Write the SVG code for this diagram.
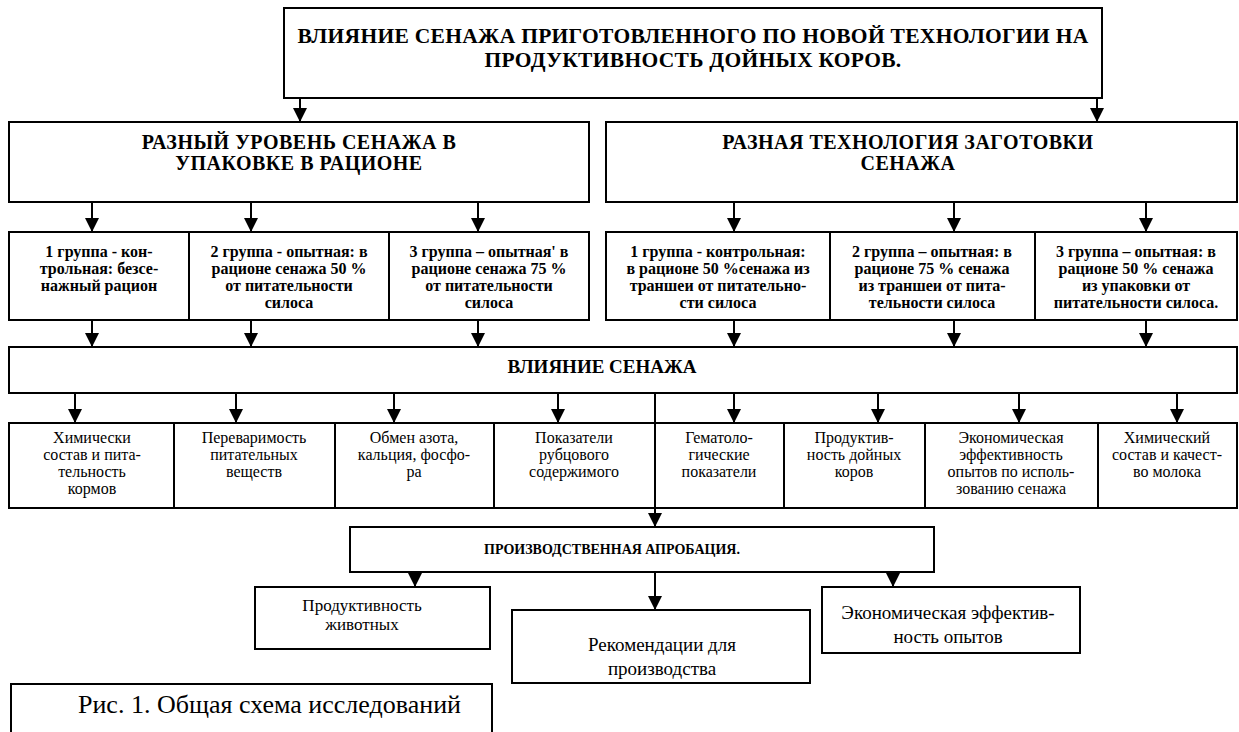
<svg xmlns="http://www.w3.org/2000/svg" width="1239" height="732" viewBox="0 0 1239 732">
<style>
.box{fill:#fff;stroke:#000;stroke-width:2}
.t{font-family:"Liberation Serif","Times New Roman",serif;fill:#000;text-anchor:middle}
.b{font-weight:bold}
.hd{font-size:20px;font-weight:bold;letter-spacing:0.5px}
.ttl{font-size:21.5px;font-weight:bold;letter-spacing:0.3px}
.g{font-size:16px;font-weight:bold}
.e{font-size:16px}
.ln{stroke:#000;stroke-width:2;fill:none}
</style>
<defs>
<marker id="ah" markerUnits="userSpaceOnUse" markerWidth="14" markerHeight="14" refX="14" refY="7" orient="auto">
<path d="M0,0 L14,7 L0,14 z" fill="#000"/>
</marker>
</defs>
<rect width="1239" height="732" fill="#fff"/>

<g id="title">
<rect class="box" x="284" y="8" width="818" height="90"/>
<text class="t ttl" x="693" y="43">ВЛИЯНИЕ СЕНАЖА ПРИГОТОВЛЕННОГО ПО НОВОЙ ТЕХНОЛОГИИ НА</text>
<text class="t ttl" x="693" y="67">ПРОДУКТИВНОСТЬ ДОЙНЫХ КОРОВ.</text>
</g>

<g id="header-left">
<rect class="box" x="9" y="122" width="580" height="80"/>
<text class="t hd" x="299" y="149">РАЗНЫЙ УРОВЕНЬ СЕНАЖА В</text>
<text class="t hd" x="299" y="170">УПАКОВКЕ В РАЦИОНЕ</text>
</g>

<g id="header-right">
<rect class="box" x="606" y="122" width="631" height="80"/>
<text class="t hd" x="908" y="149">РАЗНАЯ ТЕХНОЛОГИЯ ЗАГОТОВКИ</text>
<text class="t hd" x="908" y="170">СЕНАЖА</text>
</g>

<g id="group-l1">
<rect class="box" x="9" y="232" width="180" height="88"/>
<text class="t g" x="99" y="257">1 группа - кон-</text>
<text class="t g" x="99" y="274">трольная: безсе-</text>
<text class="t g" x="99" y="291">нажный рацион</text>
</g>
<g id="group-l2">
<rect class="box" x="189" y="232" width="200" height="88"/>
<text class="t g" x="289" y="257">2 группа - опытная: в</text>
<text class="t g" x="289" y="274">рационе сенажа 50 %</text>
<text class="t g" x="289" y="291">от питательности</text>
<text class="t g" x="289" y="308">силоса</text>
</g>
<g id="group-l3">
<rect class="box" x="389" y="232" width="200" height="88"/>
<text class="t g" x="489" y="257">3 группа – опытная' в</text>
<text class="t g" x="489" y="274">рационе сенажа 75 %</text>
<text class="t g" x="489" y="291">от питательности</text>
<text class="t g" x="489" y="308">силоса</text>
</g>
<g id="group-r1">
<rect class="box" x="606" y="232" width="224" height="88"/>
<text class="t g" x="718" y="257">1 группа - контрольная:</text>
<text class="t g" x="718" y="274">в рационе 50 %сенажа из</text>
<text class="t g" x="718" y="291">траншеи от питательно-</text>
<text class="t g" x="718" y="308">сти силоса</text>
</g>
<g id="group-r2">
<rect class="box" x="830" y="232" width="205" height="88"/>
<text class="t g" x="932" y="257">2 группа – опытная: в</text>
<text class="t g" x="932" y="274">рационе 75 % сенажа</text>
<text class="t g" x="932" y="291">из траншеи от пита-</text>
<text class="t g" x="932" y="308">тельности силоса</text>
</g>
<g id="group-r3">
<rect class="box" x="1035" y="232" width="202" height="88"/>
<text class="t g" x="1136" y="257">3 группа – опытная: в</text>
<text class="t g" x="1136" y="274">рационе 50 % сенажа</text>
<text class="t g" x="1136" y="291">из упаковки от</text>
<text class="t g" x="1136" y="308">питательности силоса.</text>
</g>

<g id="influence">
<rect class="box" x="9" y="347" width="1228" height="46"/>
<text class="t b" style="font-size:19px" x="602" y="373">ВЛИЯНИЕ СЕНАЖА</text>
</g>

<g id="effect-1">
<rect class="box" x="9" y="423" width="165" height="85"/>
<text class="t e" x="92" y="443">Химически</text>
<text class="t e" x="92" y="460">состав и пита-</text>
<text class="t e" x="92" y="477">тельность</text>
<text class="t e" x="92" y="494">кормов</text>
</g>
<g id="effect-2">
<rect class="box" x="174" y="423" width="161" height="85"/>
<text class="t e" x="254" y="443">Переваримость</text>
<text class="t e" x="254" y="460">питательных</text>
<text class="t e" x="254" y="477">веществ</text>
</g>
<g id="effect-3">
<rect class="box" x="335" y="423" width="159" height="85"/>
<text class="t e" x="414" y="443">Обмен азота,</text>
<text class="t e" x="414" y="460">кальция, фосфо-</text>
<text class="t e" x="414" y="477">ра</text>
</g>
<g id="effect-4">
<rect class="box" x="494" y="423" width="161" height="85"/>
<text class="t e" x="574" y="443">Показатели</text>
<text class="t e" x="574" y="460">рубцового</text>
<text class="t e" x="574" y="477">содержимого</text>
</g>
<g id="effect-5">
<rect class="box" x="655" y="423" width="129" height="85"/>
<text class="t e" x="719" y="443">Гематоло-</text>
<text class="t e" x="719" y="460">гические</text>
<text class="t e" x="719" y="477">показатели</text>
</g>
<g id="effect-6">
<rect class="box" x="784" y="423" width="141" height="85"/>
<text class="t e" x="854" y="443">Продуктив-</text>
<text class="t e" x="854" y="460">ность дойных</text>
<text class="t e" x="854" y="477">коров</text>
</g>
<g id="effect-7">
<rect class="box" x="925" y="423" width="173" height="85"/>
<text class="t e" x="1011" y="443">Экономическая</text>
<text class="t e" x="1011" y="460">эффективность</text>
<text class="t e" x="1011" y="477">опытов по исполь-</text>
<text class="t e" x="1011" y="494">зованию сенажа</text>
</g>
<g id="effect-8">
<rect class="box" x="1098" y="423" width="139" height="85"/>
<text class="t e" x="1167" y="443">Химический</text>
<text class="t e" x="1167" y="460">состав и качест-</text>
<text class="t e" x="1167" y="477">во молока</text>
</g>

<g id="approbation">
<rect class="box" x="350" y="527" width="584" height="45"/>
<text class="t b" style="font-size:14px" x="612" y="554">ПРОИЗВОДСТВЕННАЯ АПРОБАЦИЯ.</text>
</g>
<g id="prod-animals">
<rect class="box" x="255" y="587" width="235" height="62"/>
<text class="t" style="font-size:17px" x="362" y="611">Продуктивность</text>
<text class="t" style="font-size:17px" x="362" y="630">животных</text>
</g>
<g id="recommendations">
<rect class="box" x="512" y="610" width="298" height="73"/>
<text class="t" style="font-size:19px" x="662" y="651">Рекомендации для</text>
<text class="t" style="font-size:19px" x="662" y="675">производства</text>
</g>
<g id="econ-eff">
<rect class="box" x="822" y="587" width="258" height="66"/>
<text class="t" style="font-size:19px" x="948" y="619">Экономическая эффектив-</text>
<text class="t" style="font-size:19px" x="948" y="643">ность опытов</text>
</g>

<g id="caption">
<rect class="box" x="11" y="684" width="481" height="60"/>
<text class="t" style="font-size:26px;text-anchor:start" x="78" y="713">Рис. 1. Общая схема исследований</text>
</g>

<g id="connectors">
<line class="ln" x1="300" y1="98" x2="300" y2="122" marker-end="url(#ah)"/>
<line class="ln" x1="1097" y1="98" x2="1097" y2="122" marker-end="url(#ah)"/>
<line class="ln" x1="92" y1="202" x2="92" y2="232" marker-end="url(#ah)"/>
<line class="ln" x1="251" y1="202" x2="251" y2="232" marker-end="url(#ah)"/>
<line class="ln" x1="478" y1="202" x2="478" y2="232" marker-end="url(#ah)"/>
<line class="ln" x1="734" y1="202" x2="734" y2="232" marker-end="url(#ah)"/>
<line class="ln" x1="954" y1="202" x2="954" y2="232" marker-end="url(#ah)"/>
<line class="ln" x1="1146" y1="202" x2="1146" y2="232" marker-end="url(#ah)"/>
<line class="ln" x1="92" y1="320" x2="92" y2="347" marker-end="url(#ah)"/>
<line class="ln" x1="251" y1="320" x2="251" y2="347" marker-end="url(#ah)"/>
<line class="ln" x1="478" y1="320" x2="478" y2="347" marker-end="url(#ah)"/>
<line class="ln" x1="734" y1="320" x2="734" y2="347" marker-end="url(#ah)"/>
<line class="ln" x1="954" y1="320" x2="954" y2="347" marker-end="url(#ah)"/>
<line class="ln" x1="1146" y1="320" x2="1146" y2="347" marker-end="url(#ah)"/>
<line class="ln" x1="75" y1="393" x2="75" y2="423" marker-end="url(#ah)"/>
<line class="ln" x1="236" y1="393" x2="236" y2="423" marker-end="url(#ah)"/>
<line class="ln" x1="394" y1="393" x2="394" y2="423" marker-end="url(#ah)"/>
<line class="ln" x1="558" y1="393" x2="558" y2="423" marker-end="url(#ah)"/>
<line class="ln" x1="734" y1="393" x2="734" y2="423" marker-end="url(#ah)"/>
<line class="ln" x1="878" y1="393" x2="878" y2="423" marker-end="url(#ah)"/>
<line class="ln" x1="1019" y1="393" x2="1019" y2="423" marker-end="url(#ah)"/>
<line class="ln" x1="1177" y1="393" x2="1177" y2="423" marker-end="url(#ah)"/>
<line class="ln" x1="655" y1="393" x2="655" y2="527" marker-end="url(#ah)"/>
<line class="ln" x1="415" y1="572" x2="415" y2="587" marker-end="url(#ah)"/>
<line class="ln" x1="655" y1="572" x2="655" y2="610" marker-end="url(#ah)"/>
<line class="ln" x1="893" y1="572" x2="893" y2="587" marker-end="url(#ah)"/>
</g>
</svg>
